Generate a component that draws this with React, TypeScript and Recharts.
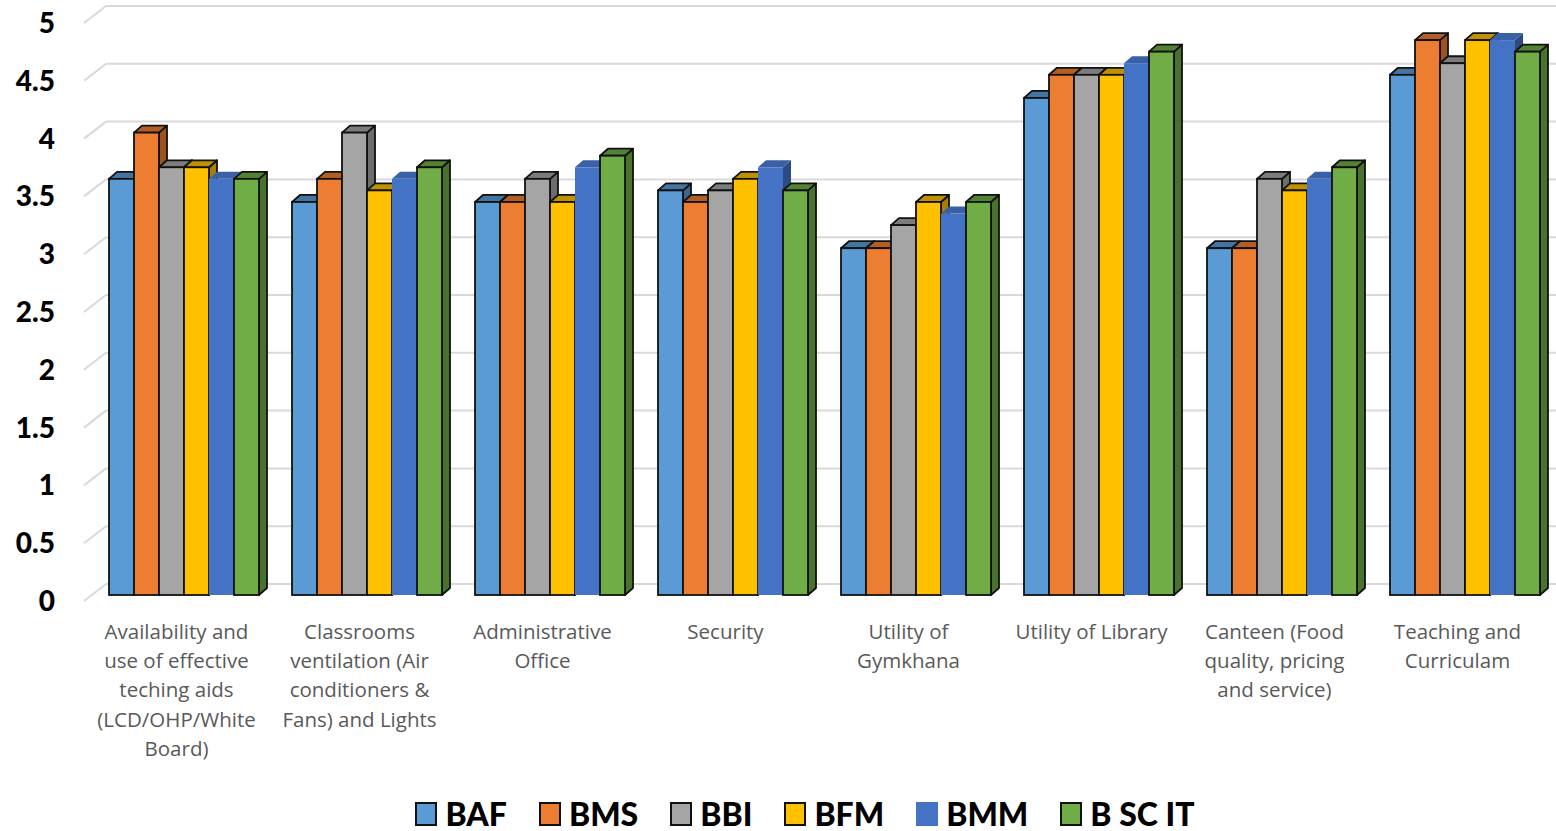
import React from "react";
import { BarChart, Bar, XAxis, YAxis, CartesianGrid, Legend } from "recharts";

const categories = [
  "Availability and\nuse of effective\nteching aids\n(LCD/OHP/White\nBoard)",
  "Classrooms\nventilation (Air\nconditioners &\nFans) and Lights",
  "Administrative\nOffice",
  "Security",
  "Utility of\nGymkhana",
  "Utility of Library",
  "Canteen (Food\nquality, pricing\nand service)",
  "Teaching and\nCurriculam",
];

const baf = [3.6, 3.4, 3.4, 3.5, 3.0, 4.3, 3.0, 4.5];
const bms = [4.0, 3.6, 3.4, 3.4, 3.0, 4.5, 3.0, 4.8];
const bbi = [3.7, 4.0, 3.6, 3.5, 3.2, 4.5, 3.6, 4.6];
const bfm = [3.7, 3.5, 3.4, 3.6, 3.4, 4.5, 3.5, 4.8];
const bmm = [3.6, 3.6, 3.7, 3.7, 3.3, 4.6, 3.6, 4.8];
const bscit = [3.6, 3.7, 3.8, 3.5, 3.4, 4.7, 3.7, 4.7];

const yTicks = [0, 0.5, 1, 1.5, 2, 2.5, 3, 3.5, 4, 4.5, 5];

const series = [
  { key: "BAF", values: baf, color: "#5B9BD5", outlined: true },
  { key: "BMS", values: bms, color: "#ED7D31", outlined: true },
  { key: "BBI", values: bbi, color: "#A5A5A5", outlined: true },
  { key: "BFM", values: bfm, color: "#FFC000", outlined: true },
  { key: "BMM", values: bmm, color: "#4472C4", outlined: false },
  { key: "B SC IT", values: bscit, color: "#70AD47", outlined: true },
];

const data = categories.map((name, i) => {
  const row: Record<string, any> = { name };
  series.forEach((s) => (row[s.key] = s.values[i]));
  return row;
});

// 3d look
const DX = 8;
const DY = 7;
const LIFT = 6;

function shade(hex: string, f: number) {
  const n = parseInt(hex.slice(1), 16);
  const r = Math.round(((n >> 16) & 255) * f);
  const g = Math.round(((n >> 8) & 255) * f);
  const b = Math.round((n & 255) * f);
  return `rgb(${r},${g},${b})`;
}

const makeShape = (color: string, outlined: boolean) => (props: any) => {
  const { x, y, width: w, height: h } = props;
  if (!h || h <= 0) return <g />;
  const yt = y - LIFT;
  const yb = y + h - LIFT;
  const stroke = outlined ? "#111" : "none";
  const sw = 1.8;
  return (
    <g>
      <polygon
        points={`${x + w},${yt} ${x + w + DX},${yt - DY} ${x + w + DX},${yb - DY} ${x + w},${yb}`}
        fill={shade(color, 0.66)}
        stroke={stroke}
        strokeWidth={sw}
        strokeLinejoin="round"
      />
      <polygon
        points={`${x},${yt} ${x + DX},${yt - DY} ${x + w + DX},${yt - DY} ${x + w},${yt}`}
        fill={shade(color, outlined ? 0.75 : 0.85)}
        stroke={stroke}
        strokeWidth={sw}
        strokeLinejoin="round"
      />
      <rect x={x} y={yt} width={w} height={h} fill={color} stroke={stroke} strokeWidth={sw} />
    </g>
  );
};

const GridLine = (props: any) => {
  const { y1, x2 } = props;
  const bx = 106;
  return (
    <g>
      <line x1={84} y1={y1} x2={bx} y2={y1 - 17} stroke="#D9D9D9" strokeWidth={2} />
      <line x1={bx} y1={y1 - 17} x2={x2 + 3} y2={y1 - 17} stroke="#D9D9D9" strokeWidth={2} />
    </g>
  );
};

const YTick = (props: any) => {
  const { y, payload } = props;
  return (
    <text x={55} y={y} dy={10} textAnchor="end" fontFamily="Lato, sans-serif" fontWeight={900} fontSize={28} fill="#000">
      {String(payload.value)}
    </text>
  );
};

const XTick = (props: any) => {
  const { x, y, payload } = props;
  const lines = String(payload.value).split("\n");
  return (
    <g>
      {lines.map((line, i) => (
        <text
          key={i}
          x={x - 6}
          y={y}
          dy={30 + i * 29.2}
          textAnchor="middle"
          fontFamily="'Open Sans', sans-serif"
          fontSize={20.5}
          fill="#595959"
        >
          {line}
        </text>
      ))}
    </g>
  );
};

const LegendContent = () => (
  <div
    style={{
      height: 40,
      display: "flex",
      justifyContent: "center",
      alignItems: "center",
      paddingLeft: 86,
      paddingTop: 6,
      boxSizing: "border-box",
      fontFamily: "Lato, sans-serif",
      fontWeight: 900,
      fontSize: 32,
      lineHeight: "32px",
      color: "#000",
      overflow: "visible",
    }}
  >
    {series.map((s) => (
      <div key={s.key} style={{ display: "flex", alignItems: "center", marginRight: 32, height: 32 }}>
        <span
          style={{
            display: "inline-block",
            width: 18,
            height: 20,
            background: s.color,
            border: s.outlined ? "2px solid #111" : "2px solid " + s.color,
            marginRight: 8,
          }}
        />
        <span style={{ lineHeight: "32px" }}>{s.key}</span>
      </div>
    ))}
  </div>
);

export default function App() {
  return (
    <div style={{ position: "absolute", left: 0, top: 0, width: 1556, height: 831, background: "#fff" }}>
      <BarChart
        width={1556}
        height={831}
        data={data}
        margin={{ top: 23, right: 1, bottom: 0, left: 0 }}
        barCategoryGap={18}
        barGap={0}
      >
        <CartesianGrid vertical={false} horizontal={(p: any) => <GridLine key={p.key} {...p} />} />
        <XAxis dataKey="name" axisLine={false} tickLine={false} height={190} interval={0} tick={<XTick />} />
        <YAxis
          domain={[0, 5]}
          ticks={yTicks}
          interval={0}
          width={91}
          axisLine={false}
          tickLine={false}
          tick={<YTick />}
        />
        <Legend
          verticalAlign="bottom"
          content={<LegendContent />}
          wrapperStyle={{ left: 0, width: 1556, bottom: 0 }}
        />
        {series.map((s) => (
          <Bar
            key={s.key}
            dataKey={s.key}
            fill={s.color}
            isAnimationActive={false}
            shape={makeShape(s.color, s.outlined)}
          />
        ))}
      </BarChart>
    </div>
  );
}
